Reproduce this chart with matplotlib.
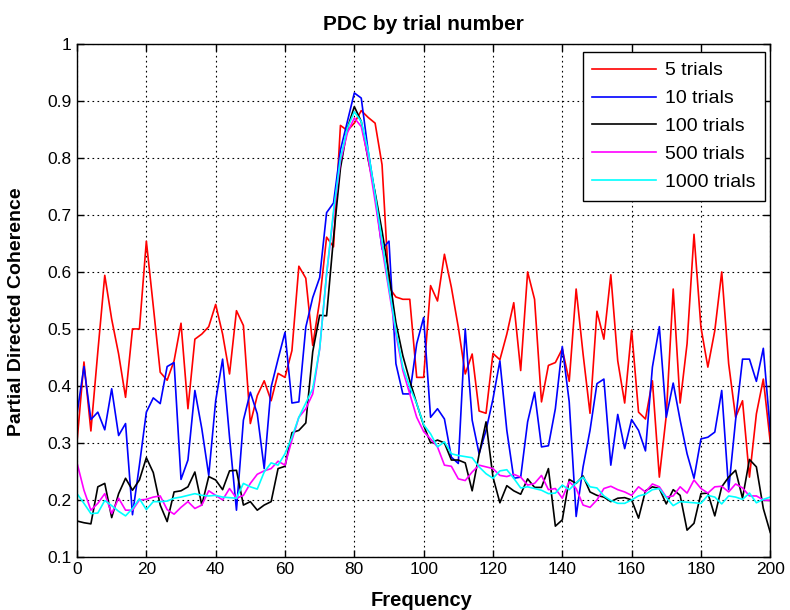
import numpy as np
import matplotlib
matplotlib.use("Agg")
import matplotlib.pyplot as plt

plt.rcParams['font.family'] = ['Liberation Sans', 'DejaVu Sans']

freq = np.arange(0, 201, 2)

pdc_5 = [0.302, 0.442, 0.321, 0.46, 0.594, 0.517, 0.456, 0.38, 0.5, 0.5,
         0.654, 0.54, 0.424, 0.41, 0.444, 0.51, 0.36, 0.482, 0.491, 0.504,
         0.543, 0.491, 0.421, 0.532, 0.506, 0.334, 0.383, 0.409, 0.374, 0.422,
         0.415, 0.462, 0.61, 0.589, 0.471, 0.549, 0.661, 0.644, 0.857, 0.848,
         0.861, 0.883, 0.871, 0.861, 0.788, 0.573, 0.556, 0.552, 0.552, 0.415,
         0.415, 0.576, 0.549, 0.631, 0.573, 0.503, 0.421, 0.456, 0.356, 0.352,
         0.457, 0.446, 0.491, 0.546, 0.427, 0.6, 0.552, 0.372, 0.436, 0.441,
         0.465, 0.408, 0.57, 0.456, 0.352, 0.531, 0.482, 0.595, 0.444, 0.37,
         0.498, 0.354, 0.342, 0.409, 0.24, 0.348, 0.57, 0.37, 0.474, 0.666,
         0.503, 0.433, 0.497, 0.6, 0.439, 0.345, 0.374, 0.24, 0.351, 0.412,
         0.302]

pdc_10 = [0.351, 0.434, 0.341, 0.354, 0.323, 0.395, 0.313, 0.334, 0.174, 0.261,
          0.354, 0.379, 0.369, 0.434, 0.441, 0.236, 0.27, 0.392, 0.325, 0.243,
          0.374, 0.447, 0.31, 0.182, 0.34, 0.389, 0.351, 0.255, 0.398, 0.447,
          0.494, 0.37, 0.372, 0.503, 0.555, 0.59, 0.704, 0.721, 0.814, 0.864,
          0.914, 0.905, 0.812, 0.736, 0.64, 0.654, 0.439, 0.386, 0.386, 0.474,
          0.52, 0.345, 0.36, 0.342, 0.275, 0.264, 0.5, 0.34, 0.281, 0.322,
          0.377, 0.444, 0.322, 0.238, 0.24, 0.337, 0.389, 0.293, 0.295, 0.36,
          0.469, 0.372, 0.171, 0.258, 0.322, 0.404, 0.412, 0.261, 0.35, 0.29,
          0.341, 0.322, 0.286, 0.433, 0.504, 0.345, 0.405, 0.34, 0.281, 0.238,
          0.307, 0.31, 0.319, 0.392, 0.218, 0.34, 0.447, 0.447, 0.408, 0.466,
          0.321]

pdc_100 = [0.163, 0.16, 0.158, 0.223, 0.229, 0.169, 0.211, 0.238, 0.217, 0.235,
           0.274, 0.248, 0.191, 0.162, 0.214, 0.216, 0.223, 0.249, 0.191, 0.241,
           0.235, 0.218, 0.251, 0.252, 0.191, 0.197, 0.182, 0.191, 0.197, 0.255,
           0.259, 0.318, 0.322, 0.335, 0.46, 0.524, 0.523, 0.66, 0.782, 0.852,
           0.89, 0.864, 0.797, 0.739, 0.672, 0.596, 0.511, 0.453, 0.409, 0.369,
           0.331, 0.3, 0.305, 0.3, 0.27, 0.27, 0.265, 0.216, 0.28, 0.337,
           0.24, 0.195, 0.225, 0.216, 0.21, 0.237, 0.222, 0.222, 0.255, 0.154,
           0.165, 0.236, 0.229, 0.242, 0.214, 0.208, 0.205, 0.197, 0.203, 0.204,
           0.2, 0.168, 0.216, 0.223, 0.22, 0.193, 0.218, 0.208, 0.147, 0.159,
           0.211, 0.212, 0.172, 0.223, 0.24, 0.252, 0.203, 0.271, 0.258, 0.185,
           0.143]

pdc_500 = [0.265, 0.217, 0.182, 0.194, 0.211, 0.176, 0.203, 0.182, 0.182, 0.2,
           0.201, 0.205, 0.207, 0.183, 0.175, 0.187, 0.197, 0.185, 0.191, 0.216,
           0.208, 0.2, 0.22, 0.203, 0.208, 0.229, 0.245, 0.251, 0.255, 0.268,
           0.261, 0.305, 0.345, 0.36, 0.386, 0.465, 0.596, 0.701, 0.794, 0.844,
           0.87, 0.855, 0.8, 0.724, 0.643, 0.567, 0.491, 0.427, 0.386, 0.345,
           0.32, 0.307, 0.293, 0.261, 0.259, 0.237, 0.234, 0.249, 0.261, 0.258,
           0.255, 0.243, 0.241, 0.245, 0.24, 0.226, 0.229, 0.243, 0.218, 0.22,
           0.203, 0.232, 0.22, 0.191, 0.187, 0.2, 0.22, 0.224, 0.218, 0.214,
           0.208, 0.223, 0.214, 0.228, 0.223, 0.205, 0.207, 0.223, 0.212, 0.235,
           0.22, 0.212, 0.223, 0.224, 0.214, 0.228, 0.221, 0.207, 0.207, 0.2,
           0.199]

pdc_1000 = [0.211, 0.194, 0.176, 0.177, 0.199, 0.19, 0.18, 0.172, 0.185, 0.202,
            0.183, 0.197, 0.197, 0.198, 0.203, 0.205, 0.208, 0.211, 0.208, 0.207,
            0.208, 0.205, 0.204, 0.203, 0.229, 0.223, 0.219, 0.249, 0.265, 0.261,
            0.281, 0.31, 0.345, 0.37, 0.395, 0.465, 0.596, 0.707, 0.8, 0.852,
            0.881, 0.864, 0.812, 0.736, 0.654, 0.573, 0.497, 0.433, 0.398, 0.369,
            0.332, 0.316, 0.293, 0.302, 0.281, 0.278, 0.276, 0.274, 0.258, 0.246,
            0.238, 0.251, 0.253, 0.238, 0.221, 0.223, 0.22, 0.217, 0.211, 0.212,
            0.226, 0.218, 0.23, 0.24, 0.223, 0.221, 0.207, 0.199, 0.194, 0.194,
            0.2, 0.207, 0.21, 0.218, 0.22, 0.204, 0.19, 0.197, 0.196, 0.195,
            0.194, 0.208, 0.205, 0.193, 0.207, 0.205, 0.201, 0.212, 0.195, 0.201,
            0.205]

series = [
    ("5 trials", pdc_5, "#ff0000"),
    ("10 trials", pdc_10, "#0000ff"),
    ("100 trials", pdc_100, "#000000"),
    ("500 trials", pdc_500, "#ff00ff"),
    ("1000 trials", pdc_1000, "#00ffff"),
]

fig = plt.figure(figsize=(7.9, 6.1), dpi=100)
ax = fig.add_axes([0.0975, 0.087, 0.8775, 0.841])

for label, vals, color in series:
    ax.plot(freq, vals, color=color, linewidth=1.2, label=label)

ax.set_xlim(0, 200)
ax.set_ylim(0.1, 1.0)
ax.set_xticks(np.arange(0, 201, 20))
ax.set_yticks(np.round(np.arange(0.1, 1.01, 0.1), 1))
ax.set_yticklabels(["0.1", "0.2", "0.3", "0.4", "0.5", "0.6", "0.7", "0.8", "0.9", "1"])
ax.grid(True, color="black", linestyle=(0, (1.5, 3)), linewidth=0.8)
ax.tick_params(direction="in", top=True, right=True, length=5, width=1,
               labelsize=12.5, pad=4)
for spine in ax.spines.values():
    spine.set_linewidth(1.0)

ax.set_title("PDC by trial number", fontsize=15, fontweight="bold", pad=10)
ax.set_xlabel("Frequency", fontsize=14.5, fontweight="bold")
ax.xaxis.label.set_va("center")
ax.xaxis.set_label_coords(0.497, -0.084)
ax.set_ylabel("Partial Directed Coherence", fontsize=14, fontweight="bold")
ax.yaxis.label.set_va("center")
ax.yaxis.set_label_coords(-0.088, 0.478)

leg = ax.legend(loc="upper right", bbox_to_anchor=(0.993, 0.984), fontsize=14,
                frameon=True, fancybox=False, edgecolor="black", framealpha=1,
                handlelength=3.3, handletextpad=0.45, borderpad=0.5,
                labelspacing=0.53, borderaxespad=0.0)
leg.get_frame().set_linewidth(1.0)

fig.savefig("out.png", dpi=100)
